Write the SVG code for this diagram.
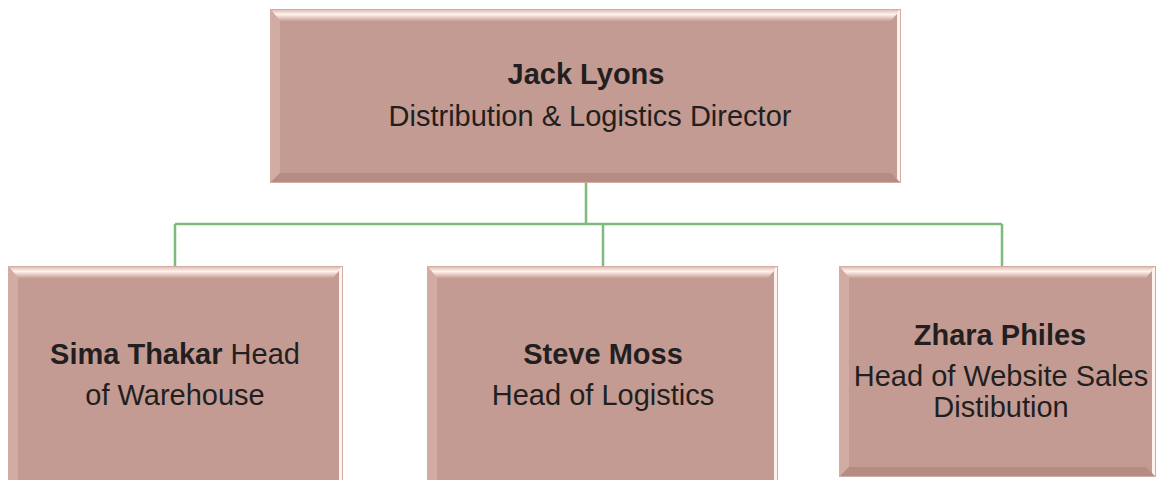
<svg xmlns="http://www.w3.org/2000/svg" width="1157" height="480" viewBox="0 0 1157 480">
  <style>
    .box { fill: #c49b93; }
    .rim { fill: none; stroke: #d3aca4; stroke-width: 1; }
    .side { fill: #d2aba3; }
    .shade { fill: #b58c84; }
    .rhi { fill: #fff2ee; }
    .wire { fill: none; stroke: #7dbb7d; stroke-width: 2.5; }
    text { font-family: "Liberation Sans", Arial, sans-serif; font-size: 29px; fill: #231f20; text-anchor: middle; }
    .b { font-weight: bold; }
  </style>
  <defs>
    <linearGradient id="topGlow" x1="0" y1="0" x2="0" y2="1">
      <stop offset="0" stop-color="#d9b3ab"/>
      <stop offset="0.45" stop-color="#fff3ec"/>
      <stop offset="1" stop-color="#c9a098"/>
    </linearGradient>
  </defs>

  <g id="connectors">
    <path class="wire" d="M586,183 V224 M175,224 H1002 M175,224 V266 M603,224 V266 M1002,224 V266"/>
  </g>

  <g id="node-jack">
    <rect class="box" x="270" y="9" width="631" height="174"/>
    <polygon fill="url(#topGlow)" points="270,9 901,9 891,21 280,21"/>
    <polygon class="side" points="270,9 280,21 280,173 270,183"/>
    <polygon class="shade" points="270,183 280,173 891,173 901,183"/>
    <polygon class="rhi" points="897,12 901,9 901,183 897,179"/>
    <rect class="rim" x="270.5" y="9.5" width="630" height="173"/>
    <text class="b" x="586" y="84">Jack Lyons</text>
    <text x="590" y="126">Distribution &amp; Logistics Director</text>
  </g>

  <g id="node-sima">
    <rect class="box" x="8" y="266" width="335" height="216"/>
    <polygon fill="url(#topGlow)" points="8,266 343,266 333,278 18,278"/>
    <polygon class="side" points="8,266 18,278 18,482 8,482"/>
    <polygon class="rhi" points="339,269 343,266 343,482 339,482"/>
    <rect class="rim" x="8.5" y="266.5" width="334" height="216"/>
    <text x="175" y="364"><tspan class="b">Sima Thakar</tspan> Head</text>
    <text x="175" y="405">of Warehouse</text>
  </g>

  <g id="node-steve">
    <rect class="box" x="427" y="266" width="351" height="216"/>
    <polygon fill="url(#topGlow)" points="427,266 778,266 768,278 437,278"/>
    <polygon class="side" points="427,266 437,278 437,482 427,482"/>
    <polygon class="rhi" points="774,269 778,266 778,482 774,482"/>
    <rect class="rim" x="427.5" y="266.5" width="350" height="216"/>
    <text class="b" x="603" y="364">Steve Moss</text>
    <text x="603" y="405">Head of Logistics</text>
  </g>

  <g id="node-zhara">
    <rect class="box" x="839" y="266" width="317" height="211"/>
    <polygon fill="url(#topGlow)" points="839,266 1156,266 1146,278 849,278"/>
    <polygon class="side" points="839,266 849,278 849,467 839,477"/>
    <polygon class="shade" points="839,477 849,467 1146,467 1156,477"/>
    <polygon class="rhi" points="1152,269 1156,266 1156,477 1152,473"/>
    <rect class="rim" x="839.5" y="266.5" width="316" height="210"/>
    <text class="b" x="1000" y="345">Zhara Philes</text>
    <text x="1001" y="386">Head of Website Sales</text>
    <text x="1001" y="417">Distibution</text>
  </g>
</svg>
